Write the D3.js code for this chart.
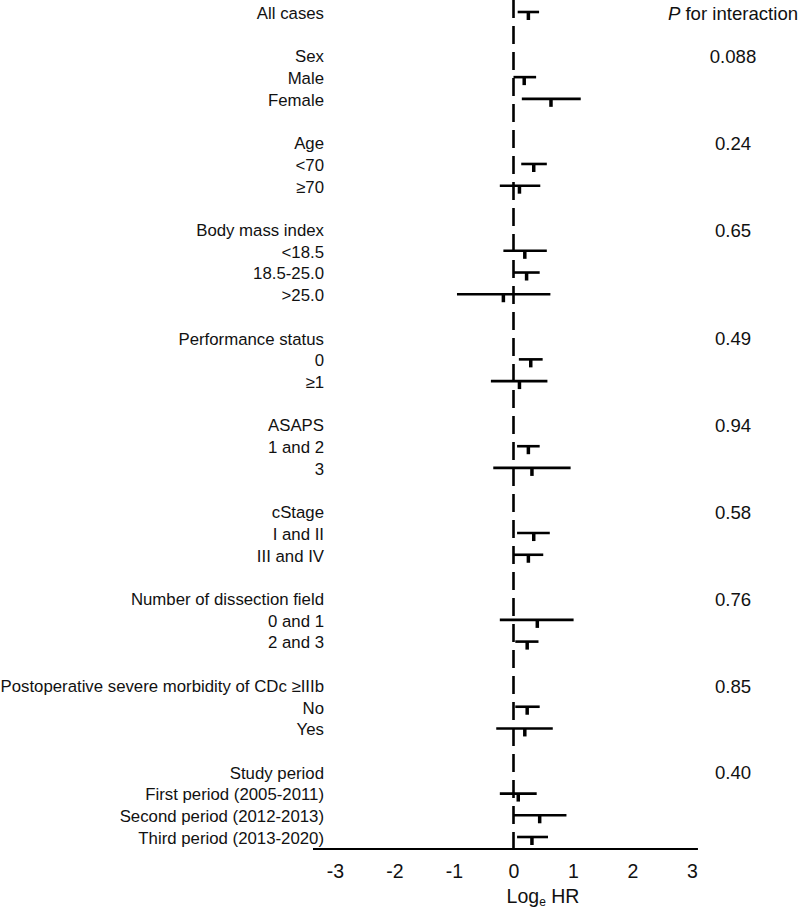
<!DOCTYPE html>
<html>
<head>
<meta charset="utf-8">
<script src="https://cdn.jsdelivr.net/npm/d3@7"></script>
<style>
  html, body { margin: 0; padding: 0; background: #fff; }
  svg { display: block; font-family: "Liberation Sans", Arial, sans-serif; }
</style>
</head>
<body>
<svg id="chart" width="800" height="910"></svg>
<script>
const rowLabels = ["All cases", "", "Sex", "Male", "Female", "", "Age", "<70", "≥70", "",
  "Body mass index", "<18.5", "18.5-25.0", ">25.0", "", "Performance status", "0", "≥1", "",
  "ASAPS", "1 and 2", "3", "", "cStage", "I and II", "III and IV", "",
  "Number of dissection field", "0 and 1", "2 and 3", "",
  "Postoperative severe morbidity of CDc ≥IIIb", "No", "Yes", "",
  "Study period", "First period (2005-2011)", "Second period (2012-2013)", "Third period (2013-2020)"];

const estimate = [0.25, null, null, 0.18, 0.63, null, null, 0.34, 0.10, null,
  null, 0.19, 0.22, -0.17, null, null, 0.29, 0.10, null,
  null, 0.25, 0.31, null, null, 0.34, 0.25, null,
  null, 0.40, 0.23, null,
  null, 0.23, 0.19, null,
  null, 0.08, 0.44, 0.31];

const lower = [0.07, null, null, 0.00, 0.14, null, null, 0.13, -0.23, null,
  null, -0.17, 0.00, -0.95, null, null, 0.09, -0.38, null,
  null, 0.06, -0.34, null, null, 0.06, 0.00, null,
  null, -0.23, 0.03, null,
  null, 0.03, -0.29, null,
  null, -0.23, 0.00, 0.06];

const upper = [0.43, null, null, 0.38, 1.13, null, null, 0.56, 0.45, null,
  null, 0.56, 0.44, 0.62, null, null, 0.49, 0.57, null,
  null, 0.44, 0.96, null, null, 0.61, 0.50, null,
  null, 1.01, 0.42, null,
  null, 0.44, 0.66, null,
  null, 0.39, 0.89, 0.58];

const pValues = [null, null, "0.088", null, null, null, "0.24", null, null, null,
  "0.65", null, null, null, null, "0.49", null, null, null,
  "0.94", null, null, null, "0.58", null, null, null,
  "0.76", null, null, null,
  "0.85", null, null, null,
  "0.40", null, null, null];

const xTicks = [-3, -2, -1, 0, 1, 2, 3];

const svg = d3.select("#chart");
const x = d3.scaleLinear().domain([-3, 3]).range([335, 692]);
const y = d3.scalePoint().domain(d3.range(rowLabels.length)).range([13, 838]);
const axisY = 849;

// reference dashed line at 0
svg.append("line")
  .attr("x1", x(0)).attr("x2", x(0))
  .attr("y1", 0).attr("y2", axisY)
  .attr("stroke", "#000").attr("stroke-width", 2.6)
  .attr("stroke-dasharray", "18,8");

// row labels
svg.append("g").selectAll("text")
  .data(rowLabels.map((t, i) => ({t, i})).filter(d => d.t))
  .join("text")
  .attr("x", 324)
  .attr("y", d => y(d.i))
  .attr("dy", "0.35em")
  .attr("text-anchor", "end")
  .attr("font-size", 16.8)
  .attr("fill", "#111")
  .text(d => d.t);

// CI lines
const dataRows = estimate.map((e, i) => ({e, lo: lower[i], hi: upper[i], i})).filter(d => d.e !== null);
const g = svg.append("g");
g.selectAll("line.ci").data(dataRows).join("line")
  .attr("class", "ci")
  .attr("x1", d => x(d.lo)).attr("x2", d => x(d.hi))
  .attr("y1", d => y(d.i) - 1).attr("y2", d => y(d.i) - 1)
  .attr("stroke", "#000").attr("stroke-width", 2.6);
g.selectAll("line.pt").data(dataRows).join("line")
  .attr("class", "pt")
  .attr("x1", d => x(d.e)).attr("x2", d => x(d.e))
  .attr("y1", d => y(d.i) - 1).attr("y2", d => y(d.i) + 7)
  .attr("stroke", "#000").attr("stroke-width", 3.5);

// P for interaction
const ph = svg.append("text")
  .attr("x", 733).attr("y", y(0)).attr("dy", "0.35em")
  .attr("text-anchor", "middle").attr("font-size", 18.6).attr("fill", "#111");
ph.append("tspan").attr("font-style", "italic").text("P");
ph.append("tspan").text(" for interaction");

svg.append("g").selectAll("text")
  .data(pValues.map((p, i) => ({p, i})).filter(d => d.p))
  .join("text")
  .attr("x", 733).attr("y", d => y(d.i)).attr("dy", "0.35em")
  .attr("text-anchor", "middle").attr("font-size", 18.6).attr("fill", "#111")
  .text(d => d.p);

// x axis
svg.append("line")
  .attr("x1", x(-3.37)).attr("x2", x(3.1))
  .attr("y1", axisY).attr("y2", axisY)
  .attr("stroke", "#000").attr("stroke-width", 2);

const axis = svg.append("g")
  .attr("transform", `translate(0,${axisY})`)
  .call(d3.axisBottom(x).tickValues(xTicks).tickSize(0).tickPadding(15).tickFormat(d3.format("d")));
axis.select(".domain").remove();
axis.selectAll("text")
  .attr("font-size", 19.5)
  .attr("font-family", "\"Liberation Sans\", Arial, sans-serif")
  .attr("fill", "#111")
  .text(d => d < 0 ? "-" + Math.abs(d) : String(d));

const xl = svg.append("text")
  .attr("x", 543).attr("y", 903)
  .attr("text-anchor", "middle").attr("font-size", 19.5).attr("fill", "#111");
xl.append("tspan").text("Log");
xl.append("tspan").attr("font-size", 12).attr("dy", 3).text("e");
xl.append("tspan").attr("dy", -3).text(" HR");
</script>
</body>
</html>
